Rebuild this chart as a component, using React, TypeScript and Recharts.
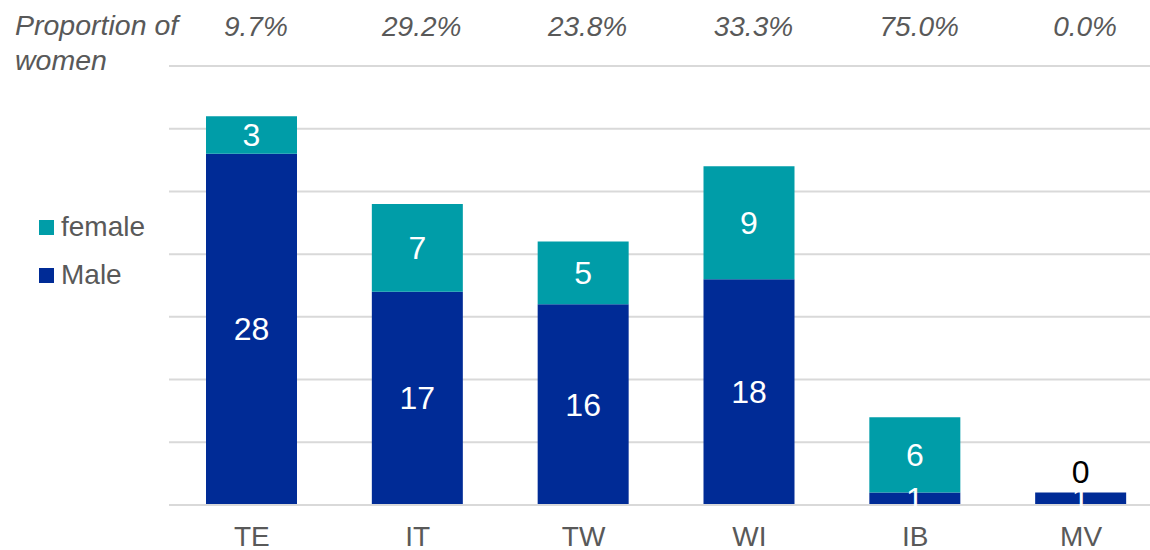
import { Bar, BarChart, CartesianGrid, LabelList, XAxis, YAxis } from "recharts";

const categories = ["TE", "IT", "TW", "WI", "IB", "MV"];
const male = [28, 17, 16, 18, 1, 1];
const female = [3, 7, 5, 9, 6, 0];
const womenShare = ["9.7%", "29.2%", "23.8%", "33.3%", "75.0%", "0.0%"];
const yTicks = [0, 5, 10, 15, 20, 25, 30, 35];

const MALE_COLOR = "#002B96";
const FEMALE_COLOR = "#009DA8";
const TEXT_GRAY = "#595959";
const FONT = "'Liberation Sans', Arial, sans-serif";

const chartData = categories.map((name, i) => ({
  name,
  male: male[i],
  female: female[i],
}));

const TopTick = ({ x, payload }: any) => (
  <text
    x={x + 4}
    y={36}
    textAnchor="middle"
    fill={TEXT_GRAY}
    fontSize={28}
    fontStyle="italic"
    fontFamily={FONT}
  >
    {womenShare[payload.index]}
  </text>
);

const labelText = (x: number, y: number, value: number, color: string) => (
  <text x={x} y={y} textAnchor="middle" dominantBaseline="central" fill={color} fontSize={32} fontFamily={FONT}>
    {value}
  </text>
);

// male segment label; a zero female count gets a black "0" above the stack
const MaleLabel = ({ x, y, width, height, value, index }: any) => {
  const cx = x + width / 2;
  return (
    <g>
      {labelText(cx, y + height / 2, value, "#fff")}
      {female[index] === 0 && labelText(cx, y - 20, 0, "#000")}
    </g>
  );
};

const FemaleLabel = ({ x, y, width, height, value }: any) =>
  value === 0 ? null : labelText(x + width / 2, y + height / 2, value, "#fff");

const legendItems = [
  { label: "female", color: FEMALE_COLOR },
  { label: "Male", color: MALE_COLOR },
];

export default function App() {
  return (
    <div style={{ position: "absolute", left: 0, top: 0, width: 1150, height: 550, overflow: "hidden", fontFamily: FONT, background: "#fff" }}>
      <div
        style={{
          position: "absolute",
          left: 15,
          top: 8,
          fontSize: 28.5,
          fontStyle: "italic",
          color: TEXT_GRAY,
          lineHeight: "35px",
        }}
      >
        Proportion of
        <br />
        women
      </div>
      <div style={{ position: "absolute", left: 39, top: 203 }}>
        {legendItems.map((item) => (
          <div key={item.label} style={{ display: "flex", alignItems: "center", height: 48, fontSize: 28, color: TEXT_GRAY }}>
            <span style={{ display: "inline-block", width: 15, height: 15, background: item.color, marginRight: 7 }} />
            {item.label}
          </div>
        ))}
      </div>
      <BarChart
        width={1150}
        height={550}
        data={chartData}
        margin={{ top: 0, right: -14, left: 169, bottom: 0 }}
        barSize={91}
        style={{ position: "absolute", left: 0, top: 0, overflow: "hidden" }}
      >
        <CartesianGrid vertical={false} stroke="#d9d9d9" strokeWidth={2} />
        <XAxis
          dataKey="name"
          axisLine={{ stroke: "#d9d9d9", strokeWidth: 2 }}
          tickLine={false}
          height={45}
          tickMargin={15}
          tick={{ fill: TEXT_GRAY, fontSize: 28, fontFamily: FONT }}
        />
        <XAxis
          xAxisId="top"
          dataKey="name"
          orientation="top"
          axisLine={false}
          tickLine={false}
          height={66}
          tick={<TopTick />}
        />
        <YAxis hide domain={[0, 35]} ticks={yTicks} />
        <Bar dataKey="male" stackId="a" fill={MALE_COLOR} isAnimationActive={false}>
          <LabelList dataKey="male" content={<MaleLabel />} />
        </Bar>
        <Bar dataKey="female" stackId="a" fill={FEMALE_COLOR} isAnimationActive={false}>
          <LabelList dataKey="female" content={<FemaleLabel />} />
        </Bar>
      </BarChart>
    </div>
  );
}
